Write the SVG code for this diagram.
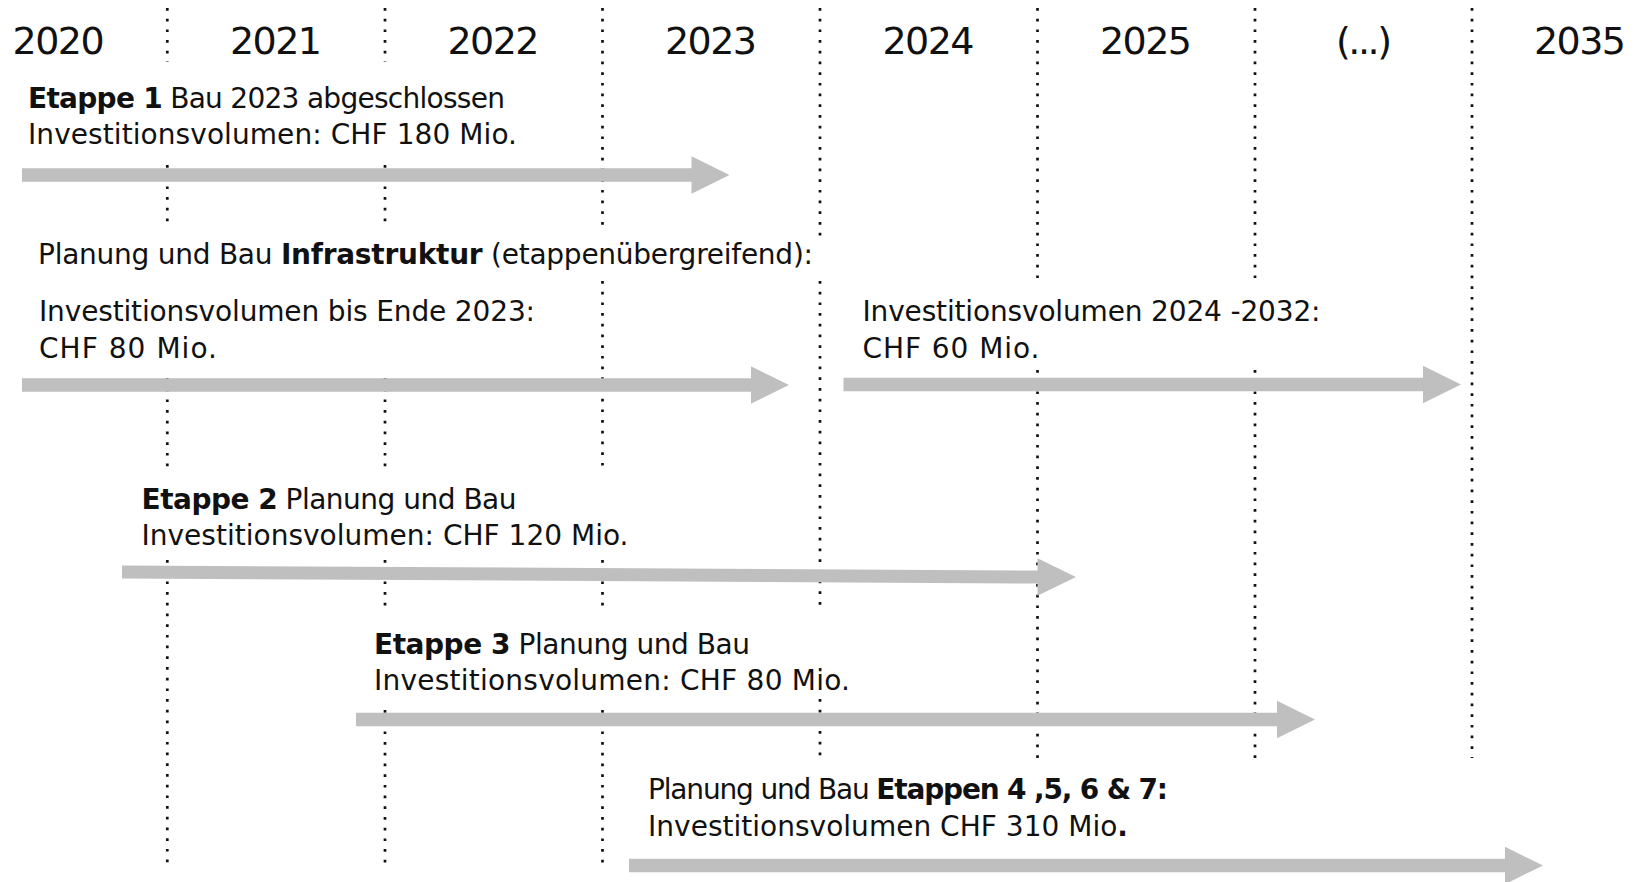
<svg xmlns="http://www.w3.org/2000/svg" width="1641" height="882" viewBox="0 0 1641 882">
  <style>
    .year { font-family: "DejaVu Sans", "Liberation Sans", sans-serif; font-size: 38px; fill: #111; text-anchor: middle; }
    .lbl { font-family: "DejaVu Sans", "Liberation Sans", sans-serif; font-size: 28px; fill: #111; }
    .b { font-weight: bold; }
    .grid line { stroke: #111; stroke-width: 2.7; stroke-dasharray: 2.7 8; fill: none; }
    .bar { fill: #bfbfbf; }
  </style>
  <rect width="1641" height="882" fill="#ffffff"/>

  <!-- year axis -->
  <g id="years">
    <text class="year" x="58.6" y="54" textLength="92">2020</text>
    <text class="year" x="276" y="54" textLength="92">2021</text>
    <text class="year" x="493.5" y="54" textLength="92">2022</text>
    <text class="year" x="711" y="54" textLength="92">2023</text>
    <text class="year" x="928.5" y="54" textLength="92">2024</text>
    <text class="year" x="1146" y="54" textLength="92">2025</text>
    <text class="year" x="1364" y="54" textLength="56">(...)</text>
    <text class="year" x="1580" y="54" textLength="92">2035</text>
  </g>

  <!-- dotted year separators -->
  <g id="grid" class="grid">
    <line x1="167.3" y1="8" x2="167.3" y2="62"/>
    <line x1="167.3" y1="165" x2="167.3" y2="226"/>
    <line x1="167.3" y1="378" x2="167.3" y2="471"/>
    <line x1="167.3" y1="560" x2="167.3" y2="865"/>

    <line x1="385" y1="8" x2="385" y2="62"/>
    <line x1="385" y1="165" x2="385" y2="226"/>
    <line x1="385" y1="378" x2="385" y2="471"/>
    <line x1="385" y1="560" x2="385" y2="609"/>
    <line x1="385" y1="710" x2="385" y2="865"/>

    <line x1="602.5" y1="8" x2="602.5" y2="226"/>
    <line x1="602.5" y1="281" x2="602.5" y2="471"/>
    <line x1="602.5" y1="560" x2="602.5" y2="609"/>
    <line x1="602.5" y1="710" x2="602.5" y2="865"/>

    <line x1="820" y1="8" x2="820" y2="236"/>
    <line x1="820" y1="281" x2="820" y2="609"/>
    <line x1="820" y1="699" x2="820" y2="758"/>

    <line x1="1037.5" y1="8" x2="1037.5" y2="278"/>
    <line x1="1037.5" y1="370" x2="1037.5" y2="758"/>

    <line x1="1255" y1="8" x2="1255" y2="278"/>
    <line x1="1255" y1="370" x2="1255" y2="758"/>

    <line x1="1472" y1="8" x2="1472" y2="758"/>
  </g>

  <!-- time span arrows -->
  <g id="connectors">
    <polygon id="arrow-etappe1" class="bar" points="22,168.3 691.5,168.3 691.5,156.3 729.5,175 691.5,193.7 691.5,181.7 22,181.7"/>
    <polygon id="arrow-infra-a" class="bar" points="22,378.3 751,378.3 751,366.3 789,385 751,403.7 751,391.7 22,391.7"/>
    <polygon id="arrow-infra-b" class="bar" points="843.5,377.8 1423,377.8 1423,365.8 1461,384.5 1423,403.2 1423,391.2 843.5,391.2"/>
    <polygon id="arrow-etappe2" class="bar" points="122,565.5 1037.5,570.5 1037.5,558.3 1076,577 1037.5,595.7 1037.5,583.5 122,578.5"/>
    <polygon id="arrow-etappe3" class="bar" points="356,712.8 1277,712.8 1277,700.8 1315,719.5 1277,738.2 1277,726.2 356,726.2"/>
    <polygon id="arrow-etappen4-7" class="bar" points="629,858.8 1505,858.8 1505,846.8 1543,865.5 1505,884.2 1505,872.2 629,872.2"/>
  </g>

  <g id="etappe1">
    <text class="lbl" x="28" y="108" textLength="477"><tspan class="b">Etappe 1</tspan> Bau 2023 abgeschlossen</text>
    <text class="lbl" x="28" y="144" textLength="489">Investitionsvolumen: CHF 180 Mio.</text>
  </g>

  <g id="infrastruktur">
    <text class="lbl" x="38" y="264" textLength="775">Planung und Bau <tspan class="b">Infrastruktur</tspan> (etappenübergreifend):</text>
  </g>

  <g id="infrastruktur-bis-2023">
    <text class="lbl" x="39" y="321" textLength="496">Investitionsvolumen bis Ende 2023:</text>
    <text class="lbl" x="39" y="357.5" textLength="178">CHF 80 Mio.</text>
  </g>

  <g id="infrastruktur-2024-2032">
    <text class="lbl" x="862.5" y="321" textLength="458">Investitionsvolumen 2024 -2032:</text>
    <text class="lbl" x="862.5" y="357.5" textLength="177">CHF 60 Mio.</text>
  </g>

  <g id="etappe2">
    <text class="lbl" x="141.5" y="509" textLength="375"><tspan class="b">Etappe 2</tspan> Planung und Bau</text>
    <text class="lbl" x="141.5" y="545" textLength="487">Investitionsvolumen: CHF 120 Mio.</text>
  </g>

  <g id="etappe3">
    <text class="lbl" x="374" y="653.5" textLength="376"><tspan class="b">Etappe 3</tspan> Planung und Bau</text>
    <text class="lbl" x="374" y="690" textLength="476">Investitionsvolumen: CHF 80 Mio.</text>
  </g>

  <g id="etappen4-7">
    <text class="lbl" x="648" y="799" textLength="520">Planung und Bau <tspan class="b">Etappen 4 ,5, 6 &amp; 7:</tspan></text>
    <text class="lbl" x="648" y="836" textLength="480">Investitionsvolumen CHF 310 Mio<tspan class="b">.</tspan></text>
  </g>
</svg>
